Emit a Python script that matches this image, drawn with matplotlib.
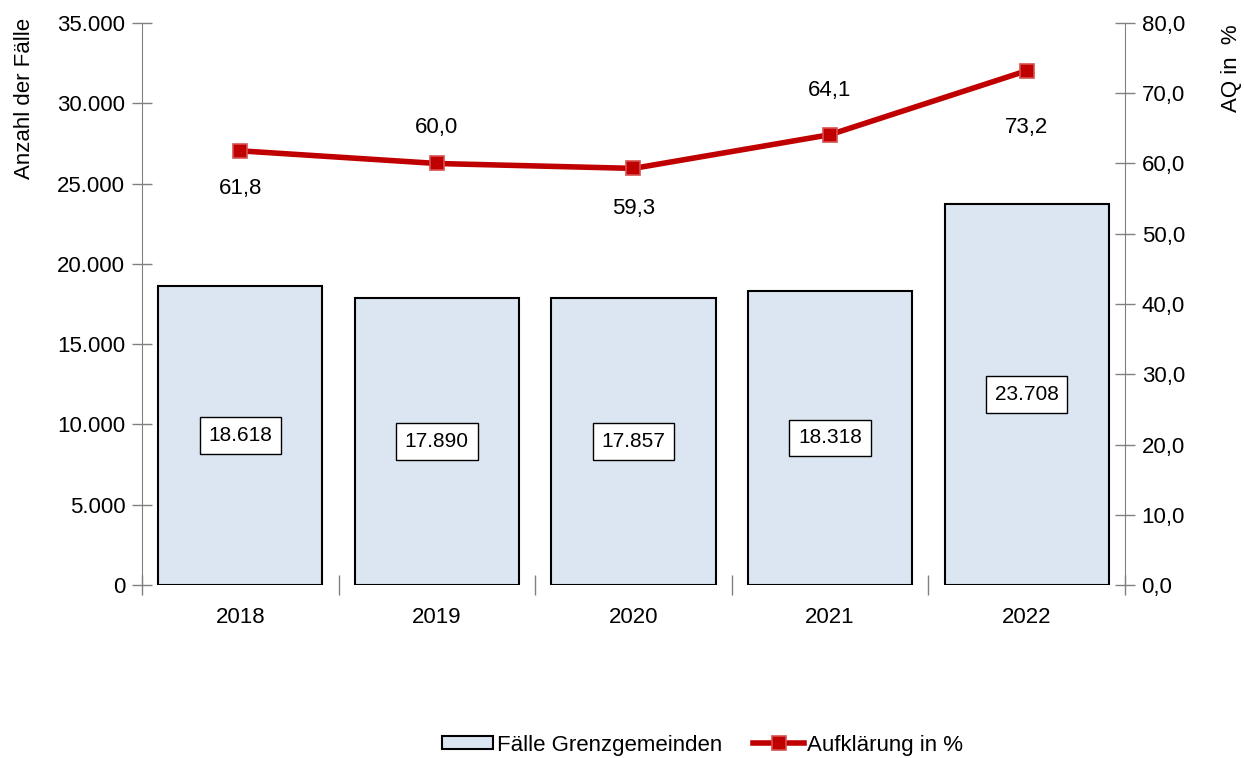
import matplotlib
matplotlib.use("Agg")
import matplotlib.pyplot as plt
from matplotlib.ticker import FuncFormatter, FixedLocator
import numpy as np

plt.rcParams['font.family'] = ['Liberation Sans', 'DejaVu Sans']

# data
years = ['2018', '2019', '2020', '2021', '2022']
cases = [18618, 17890, 17857, 18318, 23708]
clearance = [61.8, 60.0, 59.3, 64.1, 73.2]
# label offsets (points, negative = below the marker)
label_offsets = [-27, 26, -29, 32, -41]

bar_color = '#DCE6F2'
line_color = '#C00000'
axis_gray = '#808080'
fs = 16

fig = plt.figure(figsize=(12.44, 7.58), dpi=100)
ax = fig.add_axes([0.1141, 0.2282, 0.9043 - 0.1141, 0.9697 - 0.2282])
ax2 = ax.twinx()

x = np.arange(len(years))
bars = ax.bar(x, cases, width=0.835, color=bar_color, edgecolor='black',
              linewidth=1.5, label='Fälle Grenzgemeinden', zorder=2)

for xi, v in zip(x, cases):
    ax.text(xi, v / 2, f'{v:,}'.replace(',', '.'), ha='center', va='center',
            fontsize=fs - 1, zorder=5,
            bbox=dict(boxstyle='square,pad=0.42', facecolor='white',
                      edgecolor='black', linewidth=1.0))

line, = ax2.plot(x, clearance, color=line_color, linewidth=4, marker='s',
                 markersize=10, markerfacecolor=line_color,
                 markeredgecolor='#D85050', markeredgewidth=1.2,
                 label='Aufklärung in %', zorder=4)

for xi, v, off in zip(x, clearance, label_offsets):
    ax2.annotate(f'{v:.1f}'.replace('.', ','), (xi, v), xytext=(0, off),
                 textcoords='offset points', ha='center', va='center',
                 fontsize=fs)

ax.set_xlim(-0.5, len(years) - 0.5)
ax.set_ylim(0, 35000)
ax2.set_ylim(0, 80)
ax.set_yticks(np.arange(0, 35001, 5000))
ax2.set_yticks(np.arange(0, 81, 10))
ax.yaxis.set_major_formatter(FuncFormatter(lambda v, p: f'{int(v):,}'.replace(',', '.')))
ax2.yaxis.set_major_formatter(FuncFormatter(lambda v, p: f'{v:.1f}'.replace('.', ',')))

ax.xaxis.set_major_locator(FixedLocator(np.arange(-0.5, len(years), 1.0)))
ax.xaxis.set_major_formatter(FuncFormatter(lambda v, p: ''))
ax.xaxis.set_minor_locator(FixedLocator(x))
ax.set_xticklabels(years, minor=True)
ax.tick_params(axis='x', which='minor', length=0, labelsize=fs, pad=16)
ax.tick_params(axis='x', which='major', direction='inout', length=14,
               color=axis_gray, width=1)

ax.tick_params(axis='y', direction='inout', length=14, color=axis_gray,
               width=1, labelsize=fs, pad=5)
ax2.tick_params(axis='y', direction='inout', length=14, color=axis_gray,
                width=1, labelsize=fs, pad=5)

for a in (ax, ax2):
    a.spines['top'].set_visible(False)
    a.spines['bottom'].set_visible(False)
ax.spines['right'].set_visible(False)
ax2.spines['left'].set_visible(False)
ax.spines['left'].set_color(axis_gray)
ax2.spines['right'].set_color(axis_gray)

fig.text(25 / 1244, 1 - 18 / 758, 'Anzahl der Fälle', rotation=90,
         ha='center', va='top', fontsize=fs)
fig.text(1232 / 1244, 1 - 24 / 758, 'AQ in  %', rotation=90,
         ha='center', va='top', fontsize=fs)

fig.legend(handles=[bars, line], loc='center', bbox_to_anchor=(0.565, 1 - 745 / 758),
           ncol=2, frameon=False, fontsize=fs, handlelength=2.3, handleheight=0.55,
           handletextpad=0.15, columnspacing=1.4, borderpad=0)

fig.savefig('out.png', dpi=100)
